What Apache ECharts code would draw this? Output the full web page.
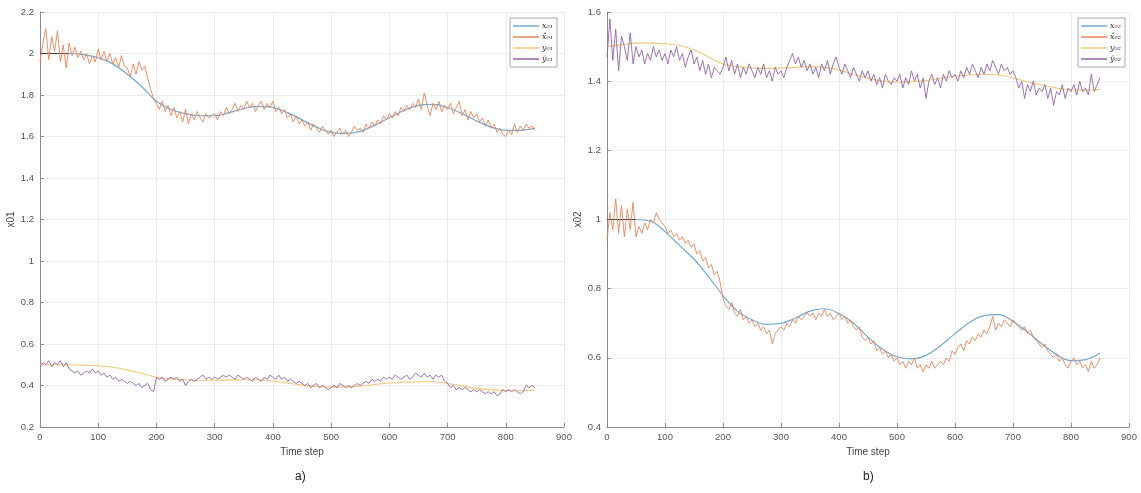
<!DOCTYPE html>
<html>
<head>
<meta charset="utf-8">
<script src="https://cdn.jsdelivr.net/npm/echarts@6/dist/echarts.min.js"></script>
<style>html,body{margin:0;padding:0;background:#fff}#c{width:1141px;height:493px}</style>
</head>
<body>
<div id="c"></div>
<script>
// ---- data ----
const xTicks = [0,100,200,300,400,500,600,700,800,900];
const smoothStep = 25;   // smooth curves sampled every 25 time steps
const noisyStep = 5;     // noisy estimates sampled every 5 time steps

// left panel (a)
const x01 = [2.0,2.0,2.0,1.995,1.98,1.95,1.9,1.84,1.77,1.73,1.71,1.70,1.70,1.715,1.735,1.745,1.74,1.715,1.68,1.645,1.62,1.615,1.625,1.655,1.69,1.725,1.75,1.755,1.74,1.71,1.675,1.645,1.63,1.63,1.64];
const y01 = [0.5,0.5,0.5,0.498,0.495,0.488,0.475,0.458,0.44,0.432,0.428,0.425,0.425,0.427,0.428,0.428,0.422,0.412,0.402,0.395,0.392,0.393,0.397,0.405,0.412,0.416,0.418,0.418,0.41,0.398,0.386,0.379,0.376,0.375,0.377];
const x01hat = [
 1.96,2.05,2.12,1.97,2.08,2.01,2.11,1.96,2.04,1.93,
 2.05,1.99,2.03,1.98,2.01,1.97,2.00,1.95,1.99,1.96,
 2.02,1.97,2.01,1.96,2.00,1.95,1.98,1.93,1.99,1.94,
 1.93,1.89,1.95,1.90,1.96,1.92,1.94,1.88,1.83,1.78,
 1.76,1.73,1.77,1.72,1.75,1.70,1.74,1.69,1.72,1.67,
 1.73,1.66,1.71,1.68,1.72,1.69,1.67,1.71,1.69,1.70,
 1.71,1.68,1.72,1.70,1.74,1.71,1.73,1.76,1.72,1.75,
 1.73,1.77,1.74,1.76,1.72,1.75,1.77,1.73,1.76,1.74,
 1.77,1.72,1.74,1.71,1.73,1.69,1.71,1.67,1.70,1.66,
 1.68,1.65,1.67,1.63,1.66,1.64,1.62,1.65,1.63,1.61,
 1.63,1.60,1.62,1.64,1.61,1.63,1.60,1.62,1.65,1.63,
 1.64,1.62,1.66,1.64,1.67,1.65,1.68,1.66,1.70,1.68,
 1.71,1.69,1.72,1.70,1.74,1.72,1.75,1.73,1.76,1.74,
 1.78,1.73,1.81,1.75,1.70,1.76,1.73,1.77,1.72,1.75,
 1.73,1.76,1.71,1.74,1.77,1.70,1.73,1.68,1.72,1.69,
 1.71,1.67,1.69,1.65,1.68,1.64,1.66,1.62,1.64,1.61,
 1.60,1.63,1.61,1.66,1.62,1.65,1.63,1.66,1.64,1.65,
 1.63];
const y01hat = [
 0.49,0.51,0.50,0.52,0.49,0.51,0.50,0.52,0.49,0.51,
 0.48,0.47,0.46,0.47,0.45,0.46,0.47,0.46,0.48,0.46,
 0.47,0.45,0.46,0.44,0.45,0.43,0.44,0.42,0.43,0.42,
 0.41,0.42,0.41,0.40,0.41,0.39,0.40,0.41,0.38,0.37,
 0.44,0.43,0.44,0.42,0.43,0.44,0.43,0.44,0.42,0.43,
 0.40,0.42,0.43,0.42,0.43,0.44,0.45,0.43,0.44,0.43,
 0.44,0.43,0.44,0.45,0.44,0.45,0.44,0.43,0.45,0.44,
 0.43,0.44,0.43,0.42,0.44,0.43,0.42,0.44,0.43,0.45,
 0.44,0.43,0.45,0.43,0.44,0.42,0.43,0.42,0.41,0.42,
 0.41,0.40,0.41,0.39,0.40,0.41,0.39,0.40,0.39,0.38,
 0.39,0.40,0.39,0.41,0.40,0.39,0.40,0.39,0.40,0.41,
 0.40,0.41,0.42,0.41,0.43,0.42,0.43,0.42,0.44,0.43,
 0.44,0.43,0.45,0.44,0.43,0.44,0.45,0.43,0.44,0.46,
 0.45,0.44,0.46,0.44,0.45,0.43,0.45,0.44,0.45,0.42,
 0.41,0.39,0.40,0.38,0.39,0.38,0.39,0.38,0.37,0.38,
 0.37,0.38,0.37,0.36,0.37,0.36,0.37,0.35,0.36,0.38,
 0.37,0.38,0.37,0.38,0.37,0.36,0.37,0.40,0.39,0.40,
 0.39];

// right panel (b)
const x02 = [1.0,1.0,1.0,0.995,0.965,0.925,0.885,0.835,0.78,0.735,0.71,0.697,0.70,0.715,0.735,0.742,0.728,0.70,0.66,0.625,0.603,0.597,0.607,0.635,0.67,0.702,0.722,0.725,0.705,0.675,0.64,0.61,0.592,0.595,0.614];
const y02 = [1.5,1.505,1.51,1.51,1.508,1.503,1.49,1.47,1.45,1.442,1.438,1.437,1.438,1.44,1.442,1.44,1.432,1.42,1.408,1.40,1.397,1.398,1.402,1.408,1.414,1.418,1.42,1.418,1.41,1.398,1.388,1.38,1.375,1.374,1.376];
const x02hat = [
 0.94,1.02,0.97,1.06,0.96,1.04,0.95,1.03,0.97,1.05,
 0.95,0.98,0.96,0.99,0.97,1.00,0.99,1.02,1.00,0.99,
 0.98,0.96,0.97,0.95,0.96,0.94,0.95,0.93,0.94,0.92,
 0.93,0.90,0.91,0.88,0.89,0.86,0.87,0.84,0.85,0.82,
 0.77,0.75,0.74,0.76,0.73,0.72,0.74,0.71,0.72,0.70,
 0.71,0.69,0.70,0.68,0.69,0.67,0.68,0.64,0.67,0.68,
 0.69,0.68,0.70,0.69,0.71,0.70,0.72,0.71,0.72,0.73,
 0.72,0.73,0.71,0.73,0.72,0.74,0.72,0.73,0.71,0.72,
 0.73,0.71,0.72,0.70,0.71,0.69,0.68,0.69,0.66,0.65,
 0.66,0.64,0.65,0.62,0.63,0.61,0.62,0.60,0.61,0.59,
 0.60,0.58,0.59,0.57,0.59,0.58,0.60,0.57,0.58,0.56,
 0.58,0.57,0.59,0.57,0.58,0.59,0.58,0.60,0.59,0.62,
 0.61,0.63,0.64,0.62,0.65,0.64,0.66,0.65,0.67,0.66,
 0.68,0.67,0.69,0.72,0.68,0.70,0.69,0.71,0.70,0.69,
 0.71,0.70,0.69,0.68,0.69,0.67,0.68,0.66,0.65,0.64,
 0.63,0.64,0.62,0.61,0.60,0.61,0.59,0.60,0.58,0.57,
 0.59,0.60,0.58,0.59,0.57,0.58,0.56,0.59,0.57,0.58,
 0.60];
const y02hat = [
 1.47,1.58,1.46,1.55,1.43,1.53,1.50,1.46,1.54,1.45,
 1.50,1.47,1.49,1.45,1.48,1.46,1.50,1.47,1.49,1.46,
 1.48,1.45,1.49,1.47,1.50,1.46,1.48,1.44,1.47,1.49,
 1.45,1.47,1.43,1.46,1.42,1.45,1.41,1.44,1.43,1.42,
 1.44,1.47,1.43,1.46,1.42,1.45,1.41,1.44,1.42,1.45,
 1.43,1.41,1.44,1.42,1.45,1.41,1.43,1.40,1.44,1.42,
 1.43,1.41,1.44,1.46,1.48,1.45,1.47,1.44,1.46,1.43,
 1.45,1.42,1.44,1.41,1.45,1.43,1.46,1.42,1.45,1.47,
 1.44,1.42,1.45,1.43,1.41,1.44,1.42,1.40,1.43,1.41,
 1.43,1.40,1.42,1.39,1.41,1.38,1.42,1.40,1.39,1.41,
 1.40,1.42,1.38,1.41,1.39,1.43,1.40,1.42,1.38,1.41,
 1.35,1.40,1.42,1.39,1.41,1.38,1.42,1.40,1.43,1.41,
 1.42,1.40,1.43,1.41,1.44,1.42,1.45,1.43,1.41,1.44,
 1.42,1.45,1.43,1.46,1.44,1.42,1.45,1.43,1.44,1.42,
 1.43,1.41,1.38,1.40,1.35,1.39,1.37,1.40,1.36,1.38,
 1.37,1.39,1.35,1.38,1.33,1.37,1.36,1.39,1.35,1.38,
 1.37,1.39,1.36,1.40,1.37,1.38,1.36,1.42,1.37,1.39,
 1.41];

const names1 = ['x\u2080\u2081','x\u0302\u2080\u2081','y\u2080\u2081','y\u0302\u2080\u2081'];
const names2 = ['x\u2080\u2082','x\u0302\u2080\u2082','y\u2080\u2082','y\u0302\u2080\u2082'];

// ---- build ----
const pairs = (arr, step) => arr.map((v, i) => [i * step, v]);
const C = {x:'#72aad0', xh:'#e8845a', y:'#f0c878', yh:'#9463a8'};
const font = 'Liberation Sans, Arial, sans-serif';

function xAx(gi){
  return {gridIndex:gi,type:'value',min:0,max:900,interval:100,
    name:'Time step',nameLocation:'middle',nameGap:17,
    nameTextStyle:{fontSize:10,color:'#444',fontFamily:font},
    axisLine:{show:true,lineStyle:{color:'#8a8a8a'}},
    axisTick:{show:true,inside:true,length:4,lineStyle:{color:'#8a8a8a'}},
    axisLabel:{fontSize:9.5,color:'#555',margin:5,fontFamily:font},
    splitLine:{show:true,lineStyle:{color:'#ececec'}}};
}
function yAx(gi,min,max,nm){
  return {gridIndex:gi,type:'value',min:min,max:max,interval:0.2,
    name:nm,nameLocation:'middle',nameGap:24,nameRotate:90,
    nameTextStyle:{fontSize:10,color:'#444',fontFamily:font},
    axisLine:{show:true,lineStyle:{color:'#8a8a8a'}},
    axisTick:{show:true,inside:true,length:4,lineStyle:{color:'#8a8a8a'}},
    axisLabel:{fontSize:9.5,color:'#555',margin:6,fontFamily:font,
      formatter:v=>String(Math.round(v*10)/10)},
    splitLine:{show:true,lineStyle:{color:'#ececec'}}};
}
function ln(name,data,color,gi,w){
  return {name:name,type:'line',xAxisIndex:gi,yAxisIndex:gi,data:data,
    showSymbol:false,symbol:'none',lineStyle:{color:color,width:w},itemStyle:{color:color},
    silent:true,z:2};
}
function legend(names,right){
  return {data:names,orient:'vertical',right:right,top:18,
    icon:'rect',itemWidth:26,itemHeight:1.5,itemGap:1,padding:[3,4,3,3],
    borderColor:'#a8a8a8',borderWidth:1,backgroundColor:'#fff',
    textStyle:{fontSize:8,fontStyle:'italic',fontFamily:'DejaVu Serif, serif',color:'#333',
      padding:[0,0,0,-2],lineHeight:10}};
}

const option = {
  animation:false,
  backgroundColor:'#fff',
  grid:[{left:40,top:12,width:524,height:415},{left:607,top:12,width:522,height:415}],
  xAxis:[xAx(0),xAx(1)],
  yAxis:[yAx(0,0.2,2.2,'x01'),yAx(1,0.4,1.6,'x02')],
  legend:[legend(names1,584),legend(names2,16)],
  series:[
    ln(names1[0],pairs(x01,smoothStep),C.x,0,1.2),
    ln('x01start',pairs(x01.slice(0,3),smoothStep),'#3a3a3a',0,1),
    ln(names1[1],pairs(x01hat,noisyStep),C.xh,0,0.9),
    ln(names1[2],pairs(y01,smoothStep),C.y,0,1.1),
    ln(names1[3],pairs(y01hat,noisyStep),C.yh,0,0.9),
    ln(names2[0],pairs(x02,smoothStep),C.x,1,1.2),
    ln('x02start',pairs(x02.slice(0,3),smoothStep),'#3a3a3a',1,1),
    ln(names2[1],pairs(x02hat,noisyStep),C.xh,1,0.9),
    ln(names2[2],pairs(y02,smoothStep),C.y,1,1.1),
    ln(names2[3],pairs(y02hat,noisyStep),C.yh,1,0.9)
  ].map(s => (s.data.length===35 ? Object.assign(s,{smooth:0.4}) : s)),
  graphic:[
    {type:'text',left:295,top:471,style:{text:'a)',fontSize:12,fill:'#222',fontFamily:font}},
    {type:'text',left:863,top:471,style:{text:'b)',fontSize:12,fill:'#222',fontFamily:font}}
  ]
};
const chart = echarts.init(document.getElementById('c'),null,{renderer:'canvas'});
chart.setOption(option);
</script>
</body>
</html>
